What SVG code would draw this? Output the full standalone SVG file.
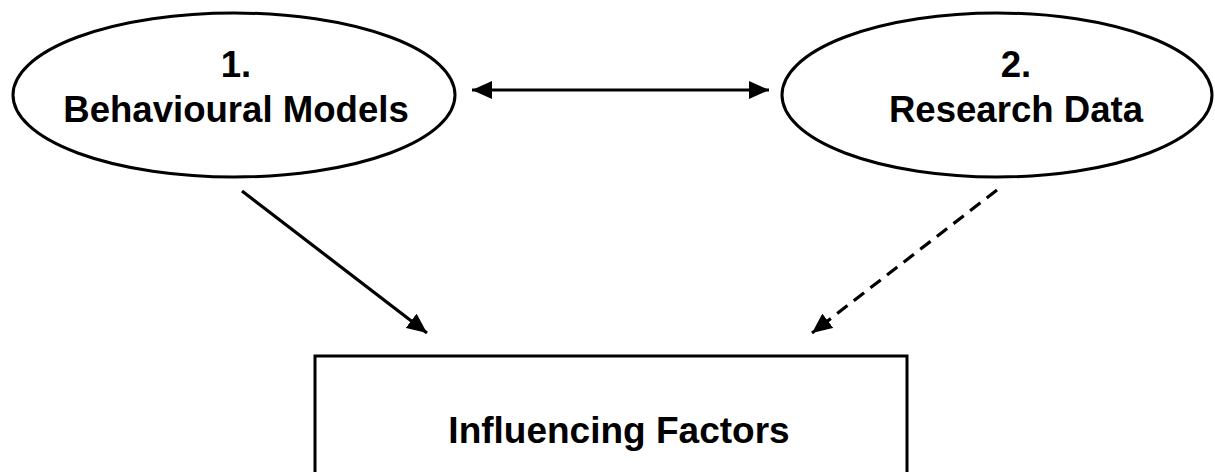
<svg xmlns="http://www.w3.org/2000/svg" width="1215" height="472" viewBox="0 0 1215 472">
<style>
.shape{fill:#fff;stroke:#000;stroke-width:3}
.lbl{font-family:"Liberation Sans",Arial,sans-serif;font-weight:bold;font-size:36.6px;fill:#000;text-anchor:middle}
.conn{stroke:#000;stroke-width:3.2;fill:none}
.dash{stroke-dasharray:13 8}
</style>
<defs>
<marker id="ah" markerUnits="userSpaceOnUse" markerWidth="22" markerHeight="18" refX="20" refY="9" orient="auto-start-reverse" viewBox="0 0 22 18">
<path d="M0,0 L20,9 L0,18 Z" fill="#000"/>
</marker>
</defs>
<g id="connectors">
<line class="conn" x1="472" y1="90" x2="769" y2="90" marker-start="url(#ah)" marker-end="url(#ah)"/>
<line class="conn" x1="242" y1="191" x2="427" y2="333" marker-end="url(#ah)"/>
<line class="conn dash" x1="997" y1="190" x2="812" y2="333" marker-end="url(#ah)"/>
</g>
<g id="node-behavioural">
<ellipse class="shape" cx="234" cy="95" rx="221" ry="82"/>
<text class="lbl" x="236" y="77">1.</text>
<text class="lbl" x="236" y="122">Behavioural Models</text>
</g>
<g id="node-research">
<ellipse class="shape" cx="997" cy="95" rx="215" ry="82"/>
<text class="lbl" x="1016" y="77">2.</text>
<text class="lbl" x="1016" y="122">Research Data</text>
</g>
<g id="node-influencing">
<rect class="shape" x="315" y="356" width="592" height="130"/>
<text class="lbl" x="619" y="443" style="font-size:37px">Influencing Factors</text>
</g>
</svg>
